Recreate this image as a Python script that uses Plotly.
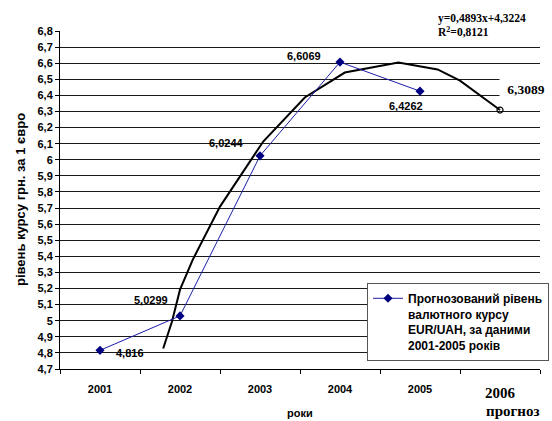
import plotly.graph_objects as go

# ---- data ----
years = ["2001", "2002", "2003", "2004", "2005", "2006"]
year_pos = [1, 2, 3, 4, 5, 6]
rate = [4.816, 5.0299, 6.0244, 6.6069, 6.4262]
rate_labels = ["4,816", "5,0299", "6,0244", "6,6069", "6,4262"]
forecast_value = 6.3089
forecast_label = "6,3089"
# smoothed trend curve, x in category units
trend_x = [1.79, 1.9, 2.0, 2.16, 2.5, 3.04, 3.56, 4.06, 4.73, 5.22, 5.5, 6.0]
trend_y = [4.827, 4.995, 5.193, 5.38, 5.709, 6.113, 6.387, 6.542, 6.604, 6.561, 6.492, 6.3089]
y_ticks = [round(4.7 + 0.1 * i, 1) for i in range(22)]
y_ticktext = ["4,7", "4,8", "4,9", "5", "5,1", "5,2", "5,3", "5,4", "5,5", "5,6", "5,7",
              "5,8", "5,9", "6", "6,1", "6,2", "6,3", "6,4", "6,5", "6,6", "6,7", "6,8"]
series_name = ("Прогнозований рівень<br>валютного курсу<br>"
               "EUR/UAH, за даними<br>2001-2005 років")
equation = "y=0,4893x+4,3224<br>R<sup>2</sup>=0,8121"

# label offsets in pixels (xshift, yshift)
label_shift = [(30, -3), (-29, 16), (-34, 13), (-36, 6), (-14, -15)]

W, H = 552, 421
ML, MR, MT, MB = 60, 12, 31, 52
PW, PH = W - ML - MR, H - MT - MB


def px_x(px):
    return (px - ML) / PW


def px_y(py):
    return (H - MB - py) / PH


SANS = "Liberation Sans, Arial, sans-serif"
SERIF = "Liberation Serif, Times New Roman, serif"

fig = go.Figure()

fig.add_trace(go.Scatter(
    x=trend_x, y=trend_y, mode="lines",
    line=dict(color="black", width=2),
    showlegend=False, hoverinfo="skip"))

fig.add_trace(go.Scatter(
    x=[year_pos[5]], y=[forecast_value], mode="markers",
    marker=dict(symbol="circle-open", size=6, color="black", line=dict(width=1.2)),
    showlegend=False, hoverinfo="skip"))

fig.add_trace(go.Scatter(
    x=year_pos[:5], y=rate, mode="lines+markers",
    name=series_name,
    line=dict(color="#1c1ca8", width=1),
    marker=dict(symbol="diamond", size=7, color="#000080"),
))

annotations = []
for xp, yv, txt, (dx, dy) in zip(year_pos[:5], rate, rate_labels, label_shift):
    annotations.append(dict(x=xp, y=yv, xref="x", yref="y", text=txt, showarrow=False,
                            xanchor="center", yanchor="middle",
                            xshift=dx, yshift=dy,
                            font=dict(family=SANS, size=11, color="black", weight="bold")))

annotations.append(dict(x=year_pos[5], y=forecast_value, xref="x", yref="y", text=forecast_label,
                        showarrow=False, xanchor="center", yanchor="middle",
                        xshift=26, yshift=21, width=50, height=24, align="center",
                        bgcolor="white",
                        font=dict(family=SERIF, size=13.5, color="black", weight="bold")))

annotations.append(dict(x=px_x(436), y=px_y(25), xref="paper", yref="paper", text=equation,
                        showarrow=False, xanchor="left", yanchor="middle", align="left",
                        width=112, height=36, bgcolor="white",
                        font=dict(family=SERIF, size=11.5, color="black", weight="bold")))

annotations.append(dict(x=px_x(20), y=0.5, xref="paper", yref="paper",
                        xanchor="center", yanchor="middle",
                        text="рівень курсу грн. за 1 євро", textangle=-90, showarrow=False,
                        font=dict(family=SANS, size=13, color="black", weight="bold")))

annotations.append(dict(x=0.5, y=px_y(413), xref="paper", yref="paper", text="роки",
                        xanchor="center", yanchor="middle", showarrow=False,
                        font=dict(family=SANS, size=11, color="black", weight="bold")))

annotations.append(dict(x=year_pos[5], y=px_y(393), xref="x", yref="paper", text=years[5],
                        xanchor="center", yanchor="middle", showarrow=False,
                        font=dict(family=SERIF, size=15, color="black", weight="bold")))

annotations.append(dict(x=year_pos[5] + 0.16, y=px_y(411), xref="x", yref="paper", text="прогноз",
                        xanchor="center", yanchor="middle", showarrow=False,
                        font=dict(family=SERIF, size=15, color="black", weight="bold")))

fig.update_layout(
    width=W, height=H,
    margin=dict(l=ML, r=MR, t=MT, b=MB, autoexpand=False),
    paper_bgcolor="white", plot_bgcolor="white",
    annotations=annotations,
    legend=dict(x=px_x(367), y=px_y(283), xanchor="left", yanchor="top",
                bgcolor="white", bordercolor="#555555", borderwidth=1,
                valign="top", itemwidth=30, tracegroupgap=0,
                font=dict(family=SANS, size=12, color="black", weight="bold")),
    xaxis=dict(range=[0.5, 6.5], tickvals=year_pos[:5], ticktext=years[:5],
               ticks="", showgrid=False, zeroline=False,
               showline=True, linecolor="black", linewidth=1,
               ticklabelstandoff=10, automargin=False,
               tickfont=dict(family=SANS, size=11, color="black", weight="bold"),
               minor=dict(tickvals=[0.5, 1.5, 2.5, 3.5, 4.5, 5.5, 6.5], ticks="outside",
                          ticklen=4, tickcolor="black", showgrid=False)),
    yaxis=dict(range=[4.7, 6.8], tickvals=y_ticks, ticktext=y_ticktext,
               ticks="outside", ticklen=4, tickcolor="black", automargin=False,
               showgrid=True, gridcolor="#1a1a1a", gridwidth=1, zeroline=False,
               showline=True, linecolor="black", linewidth=1,
               tickfont=dict(family=SANS, size=11, color="black", weight="bold")),
)

fig.write_html("out.html",
               config={"displayModeBar": False},
               post_script="document.body.style.margin='0';document.body.style.overflow='hidden';")
